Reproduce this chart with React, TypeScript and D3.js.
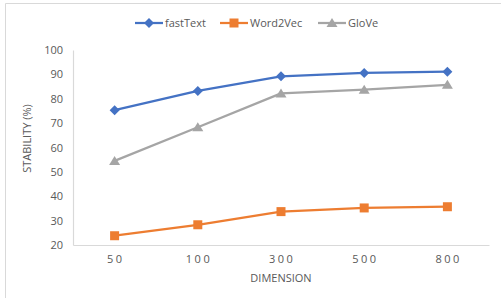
import { useEffect, useRef } from 'react';
import * as d3 from 'd3';

const dimensions = ['50', '100', '300', '500', '800'];
const fastText = [75.3, 83.2, 89.2, 90.6, 91.1];
const word2Vec = [23.8, 28.3, 33.7, 35.2, 35.7];
const glove = [54.5, 68.3, 82.2, 83.7, 85.7];
const yTicks = [20, 30, 40, 50, 60, 70, 80, 90, 100];

const seriesList = [
  { name: 'fastText', values: fastText, color: '#4472C4', marker: 'diamond' },
  { name: 'Word2Vec', values: word2Vec, color: '#ED7D31', marker: 'square' },
  { name: 'GloVe', values: glove, color: '#A5A5A5', marker: 'triangle' }
];

const FONT = '"Open Sans", "Liberation Sans", sans-serif';

export default function App() {
  const svgRef = useRef<SVGSVGElement | null>(null);

  useEffect(() => {
    const svgElement = svgRef.current;
    if (!svgElement) return;
    const width = 501;
    const height = 302;
    const margin = { top: 50, right: 12, bottom: 57, left: 73 };
    const innerWidth = width - margin.left - margin.right;
    const innerHeight = height - margin.top - margin.bottom;
    const svg = d3.select(svgElement);
    svg.selectAll('*').remove();

    svg.append('rect').attr('width', width).attr('height', height).attr('fill', '#fff');
    // chart frame (cropped on the right and bottom)
    svg.append('line').attr('x1', 5.5).attr('x2', width).attr('y1', 3.5).attr('y2', 3.5).attr('stroke', '#d9d9d9');
    svg.append('line').attr('x1', 5.5).attr('x2', 5.5).attr('y1', 3.5).attr('y2', 298).attr('stroke', '#d9d9d9');

    const x = d3.scaleBand<string>().domain(dimensions).range([0, innerWidth]);
    const y = d3.scaleLinear().domain([20, 100]).range([innerHeight, 0]);
    const chart = svg.append('g').attr('transform', `translate(${margin.left},${margin.top})`);

    const xAxis = chart.append('g').attr('transform', `translate(0,${innerHeight})`)
      .call(d3.axisBottom(x).tickSize(0).tickPadding(10));
    xAxis.select('.domain').attr('stroke', '#d9d9d9').attr('stroke-width', 1.2);
    xAxis.selectAll('text').attr('fill', '#595959').style('font-family', FONT).style('font-size', '11px')
      .style('letter-spacing', '2.5px').attr('dx', '1.2px');

    const yAxis = chart.append('g').call(d3.axisLeft(y).tickValues(yTicks).tickSize(0).tickPadding(10));
    yAxis.select('.domain').attr('stroke', '#d9d9d9').attr('stroke-width', 1.2);
    yAxis.selectAll('text').attr('fill', '#595959').style('font-family', FONT).style('font-size', '11px');

    chart.append('text').attr('x', innerWidth / 2).attr('y', innerHeight + 37).attr('text-anchor', 'middle')
      .attr('fill', '#595959').style('font-family', FONT).style('font-size', '11px').text('DIMENSION');
    chart.append('text').attr('transform', 'rotate(-90)').attr('x', -innerHeight / 2 + 9).attr('y', -42)
      .attr('text-anchor', 'middle').attr('fill', '#595959').style('font-family', FONT).style('font-size', '11px')
      .text('STABILITY (%)');

    const cx = (i: number) => (x(dimensions[i]) ?? 0) + x.bandwidth() / 2;
    const line = d3.line<number>().x((_, i) => cx(i)).y((d) => y(d));

    const markerPath = (kind: string) => {
      if (kind === 'diamond') return 'M0,-5L5,0L0,5L-5,0Z';
      if (kind === 'square') return 'M-4.5,-4.5H4.5V4.5H-4.5Z';
      return 'M0,-5L5.5,4L-5.5,4Z';
    };

    seriesList.forEach((s) => {
      chart.append('path').datum(s.values).attr('d', line).attr('fill', 'none')
        .attr('stroke', s.color).attr('stroke-width', 2.25).attr('stroke-linejoin', 'round');
      chart.selectAll(null).data(s.values).join('path')
        .attr('d', markerPath(s.marker))
        .attr('transform', (d, i) => `translate(${cx(i)},${y(d)})`)
        .attr('fill', s.color);
    });

    // legend
    const legendItems = [
      { x: 135, w: 28 },
      { x: 220, w: 28 },
      { x: 318, w: 28 }
    ];
    const legend = svg.append('g').attr('transform', 'translate(0,23)');
    seriesList.forEach((s, i) => {
      const item = legend.append('g').attr('transform', `translate(${legendItems[i].x},0)`);
      item.append('line').attr('x1', 0).attr('x2', legendItems[i].w).attr('y1', 0).attr('y2', 0)
        .attr('stroke', s.color).attr('stroke-width', 2.25);
      item.append('path').attr('d', markerPath(s.marker)).attr('transform', `translate(${legendItems[i].w / 2},0)`)
        .attr('fill', s.color);
      item.append('text').attr('x', legendItems[i].w + 2).attr('y', 4).attr('fill', '#595959')
        .style('font-family', FONT).style('font-size', '11px').text(s.name);
    });
  }, []);

  return (
    <svg ref={svgRef} width={501} height={302} style={{ position: 'absolute', left: 0, top: 0 }} />
  );
}
